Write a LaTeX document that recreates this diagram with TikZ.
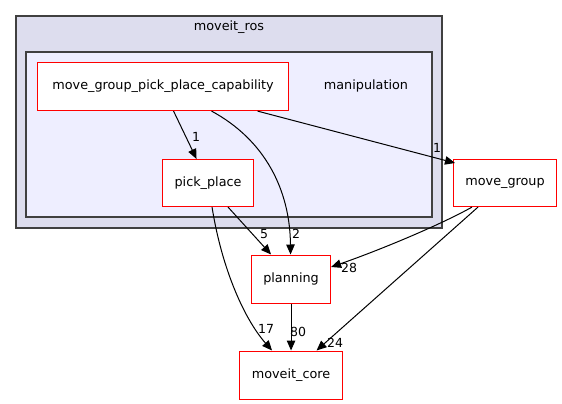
\documentclass[tikz,border=0pt]{standalone}
\usepackage{fontspec}
\setmainfont{DejaVu Sans}
\usetikzlibrary{arrows.meta}
\definecolor{outerfill}{HTML}{DDDDEE}
\definecolor{innerfill}{HTML}{EEEEFF}
\definecolor{clborder}{HTML}{404040}
\definecolor{nodered}{HTML}{FF0000}
\begin{document}
\begin{tikzpicture}[x=1pt,y=-1pt,
  dirnode/.style={draw=nodered,fill=white,line width=1.1pt,inner sep=0pt,anchor=north west},
  lbl/.style={font=\fontsize{12.5}{14}\selectfont,inner sep=0pt},
  edge/.style={line width=1pt,-{Triangle[length=10pt,width=8.5pt]}},
  txt/.style={font=\fontsize{12.8}{15}\selectfont,inner sep=0pt}
]
\useasboundingbox (0,0) rectangle (562,404);
% clusters
\draw[fill=outerfill,draw=clborder,line width=1.3pt] (16,16) rectangle (442,228);
\node[txt] (ros) at (229,27) {moveit\_ros};
\draw[fill=innerfill,draw=clborder,line width=1.3pt] (26,52) rectangle (432,217);
\node[txt] (manip) at (366,86) {manipulation};
% nodes
\node[dirnode,minimum width=251pt,minimum height=48pt] (mgppc) at (37,62) {};
\node[txt] at (mgppc.center) {move\_group\_pick\_place\_capability};
\node[dirnode,minimum width=91pt,minimum height=47pt] (pp) at (162,159) {};
\node[txt] at (pp.center) {pick\_place};
\node[dirnode,minimum width=103pt,minimum height=47pt] (mg) at (453,159) {};
\node[txt] at (mg.center) {move\_group};
\node[dirnode,minimum width=79pt,minimum height=48pt] (plan) at (251,254.5) {};
\node[txt] at (plan.center) {planning};
\node[dirnode,minimum width=103pt,minimum height=48pt] (core) at (239,350.5) {};
\node[txt] at (core.center) {moveit\_core};
% edges
\draw[edge] ([xshift=10.5pt]mgppc.south) -- ([xshift=-11.5pt]pp.north);
\node[lbl] at (196,137) {1};
\draw[edge] ([xshift=48.5pt]mgppc.south) .. controls (265,140) and (290,190) .. ([xshift=-0.5pt]plan.north);
\node[lbl] at (296,234) {2};
\draw[edge] ([xshift=94.5pt]mgppc.south) -- ([xshift=2pt,yshift=-4pt]mg.north west);
\node[lbl] at (437,148) {1};
\draw[edge] ([xshift=20pt]pp.south) -- ([xshift=-20pt]plan.north);
\node[lbl] at (264,234) {5};
\draw[edge] ([xshift=4pt]pp.south) .. controls (222,270) and (245,320) .. ([xshift=-19pt]core.north);
\node[lbl] at (266,329) {17};
\draw[edge] (plan.south) -- (core.north);
\node[lbl] at (298,332) {80};
\draw[edge] ([xshift=19pt]mg.south west) .. controls (440,225) and (380,250) .. ([yshift=-12.5pt]plan.north east);
\node[lbl] at (349,268) {28};
\draw[edge] ([xshift=25pt]mg.south west) -- ([xshift=25.5pt]core.north);
\node[lbl] at (335,343) {24};
\end{tikzpicture}
\end{document}
